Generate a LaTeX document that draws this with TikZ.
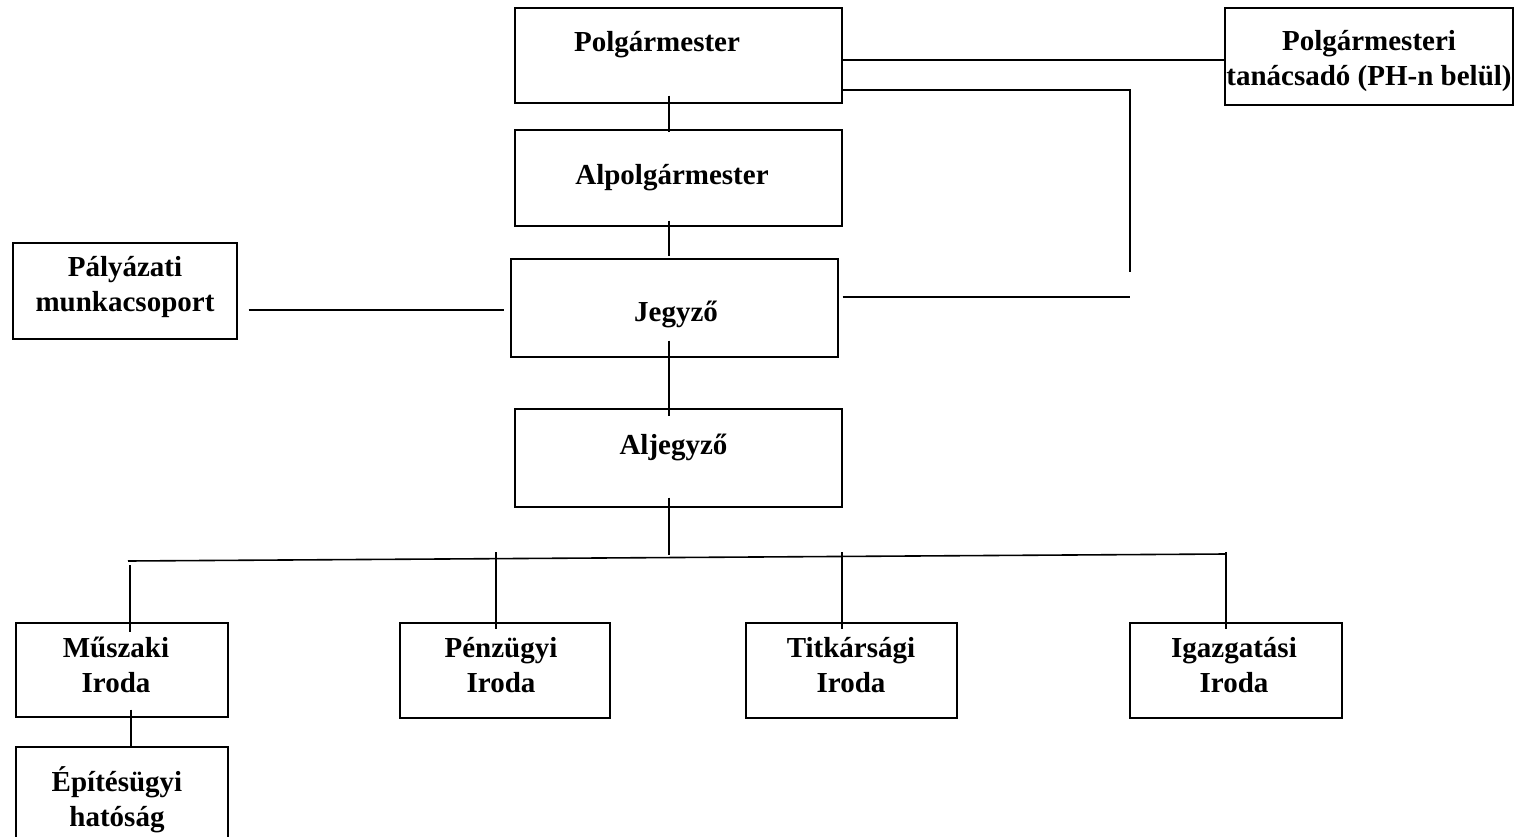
\documentclass[tikz,border=0pt]{standalone}
\usepackage{fontspec}
\setmainfont{Liberation Serif}
\begin{document}
\begin{tikzpicture}[x=1pt,y=-1pt,
  box/.style={draw, line width=1.3pt, inner sep=0pt},
  lbl/.style={font=\fontsize{29}{35}\selectfont\bfseries, align=center, inner sep=0pt},
  conn/.style={line width=1.6pt}]
\useasboundingbox[fill=white] (0,0) rectangle (1537,837);
% boxes
\node[box, minimum width=327pt, minimum height=95pt] (polg) at (678.5,55.5) {};
\node[box, minimum width=288pt, minimum height=97pt] (tan) at (1369,56.5) {};
\node[box, minimum width=327pt, minimum height=96pt] (alp) at (678.5,178) {};
\node[box, minimum width=327pt, minimum height=98pt] (jegy) at (674.5,308) {};
\node[box, minimum width=224pt, minimum height=96pt] (pal) at (125,291) {};
\node[box, minimum width=327pt, minimum height=98pt] (aljegy) at (678.5,458) {};
\node[box, minimum width=212pt, minimum height=94pt] (musz) at (122,670) {};
\node[box, minimum width=210pt, minimum height=95pt] (penz) at (505,670.5) {};
\node[box, minimum width=211pt, minimum height=95pt] (titk) at (851.5,670.5) {};
\node[box, minimum width=212pt, minimum height=95pt] (igaz) at (1236,670.5) {};
\node[box, minimum width=212pt, minimum height=95pt] (epit) at (122,794.5) {};
% labels
\node[lbl, anchor=base] (polgT) at (657,52) {Polgármester};
\node[lbl] (tanT) at (1369,61) {Polgármesteri\\tanácsadó (PH-n belül)};
\node[lbl, anchor=base] (alpT) at (672,185) {Alpolgármester};
\node[lbl] (palT) at (125,287.5) {Pályázati\\munkacsoport};
\node[lbl, anchor=base] (jegyT) at (676,321) {Jegyző};
\node[lbl, anchor=base] (aljegyT) at (673.5,454) {Aljegyző};
\node[lbl] (muszT) at (116,665) {Műszaki\\Iroda};
\node[lbl] (penzT) at (501,665) {Pénzügyi\\Iroda};
\node[lbl] (titkT) at (851,665) {Titkársági\\Iroda};
\node[lbl] (igazT) at (1234,665) {Igazgatási\\Iroda};
\node[lbl] (epitT) at (117,799.5) {Építésügyi\\hatóság};
% helper coordinates
\coordinate (sp) at (669,0);
\coordinate (t1) at (0,60);
\coordinate (t2) at (0,90);
\coordinate (rc) at (1130,272);
\coordinate (j1) at (0,297);
\coordinate (j2) at (1130,297);
\coordinate (py) at (0,310);
\coordinate (busL) at (128,561);
\coordinate (busR) at (1226,554);
\coordinate (spE) at (669,555);
\coordinate (dm) at (130,565);
\coordinate (dp) at (496,552);
\coordinate (dt) at (842,552);
\coordinate (di) at (1226,552);
\coordinate (me) at (131,0);
% connectors
\draw[conn] ([yshift=8pt]polg.south -| sp) -- ([yshift=-3pt]alp.north -| sp);
\draw[conn] ([yshift=6pt]alp.south -| sp) -- ([yshift=2pt]jegy.north -| sp);
\draw[conn] ([yshift=17pt]jegy.south -| sp) -- ([yshift=-8pt]aljegy.north -| sp);
\draw[conn] ([yshift=10pt]aljegy.south -| sp) -- (spE);
\draw[conn] (polg.east |- t1) -- (tan.west |- t1);
\draw[conn] (polg.east |- t2) -| (rc);
\draw[conn] ([xshift=4pt]jegy.east |- j1) -- (j2);
\draw[conn] ([xshift=11pt]pal.east |- py) -- ([xshift=-6pt]jegy.west |- py);
\draw[conn] (busL) -- (busR);
\draw[conn] (dm) -- ([yshift=-10pt]musz.north -| dm);
\draw[conn] (dp) -- ([yshift=-7pt]penz.north -| dp);
\draw[conn] (dt) -- ([yshift=-7pt]titk.north -| dt);
\draw[conn] (di) -- ([yshift=-7pt]igaz.north -| di);
\draw[conn] ([yshift=8pt]musz.south -| me) -- (epit.north -| me);
\end{tikzpicture}
\end{document}
